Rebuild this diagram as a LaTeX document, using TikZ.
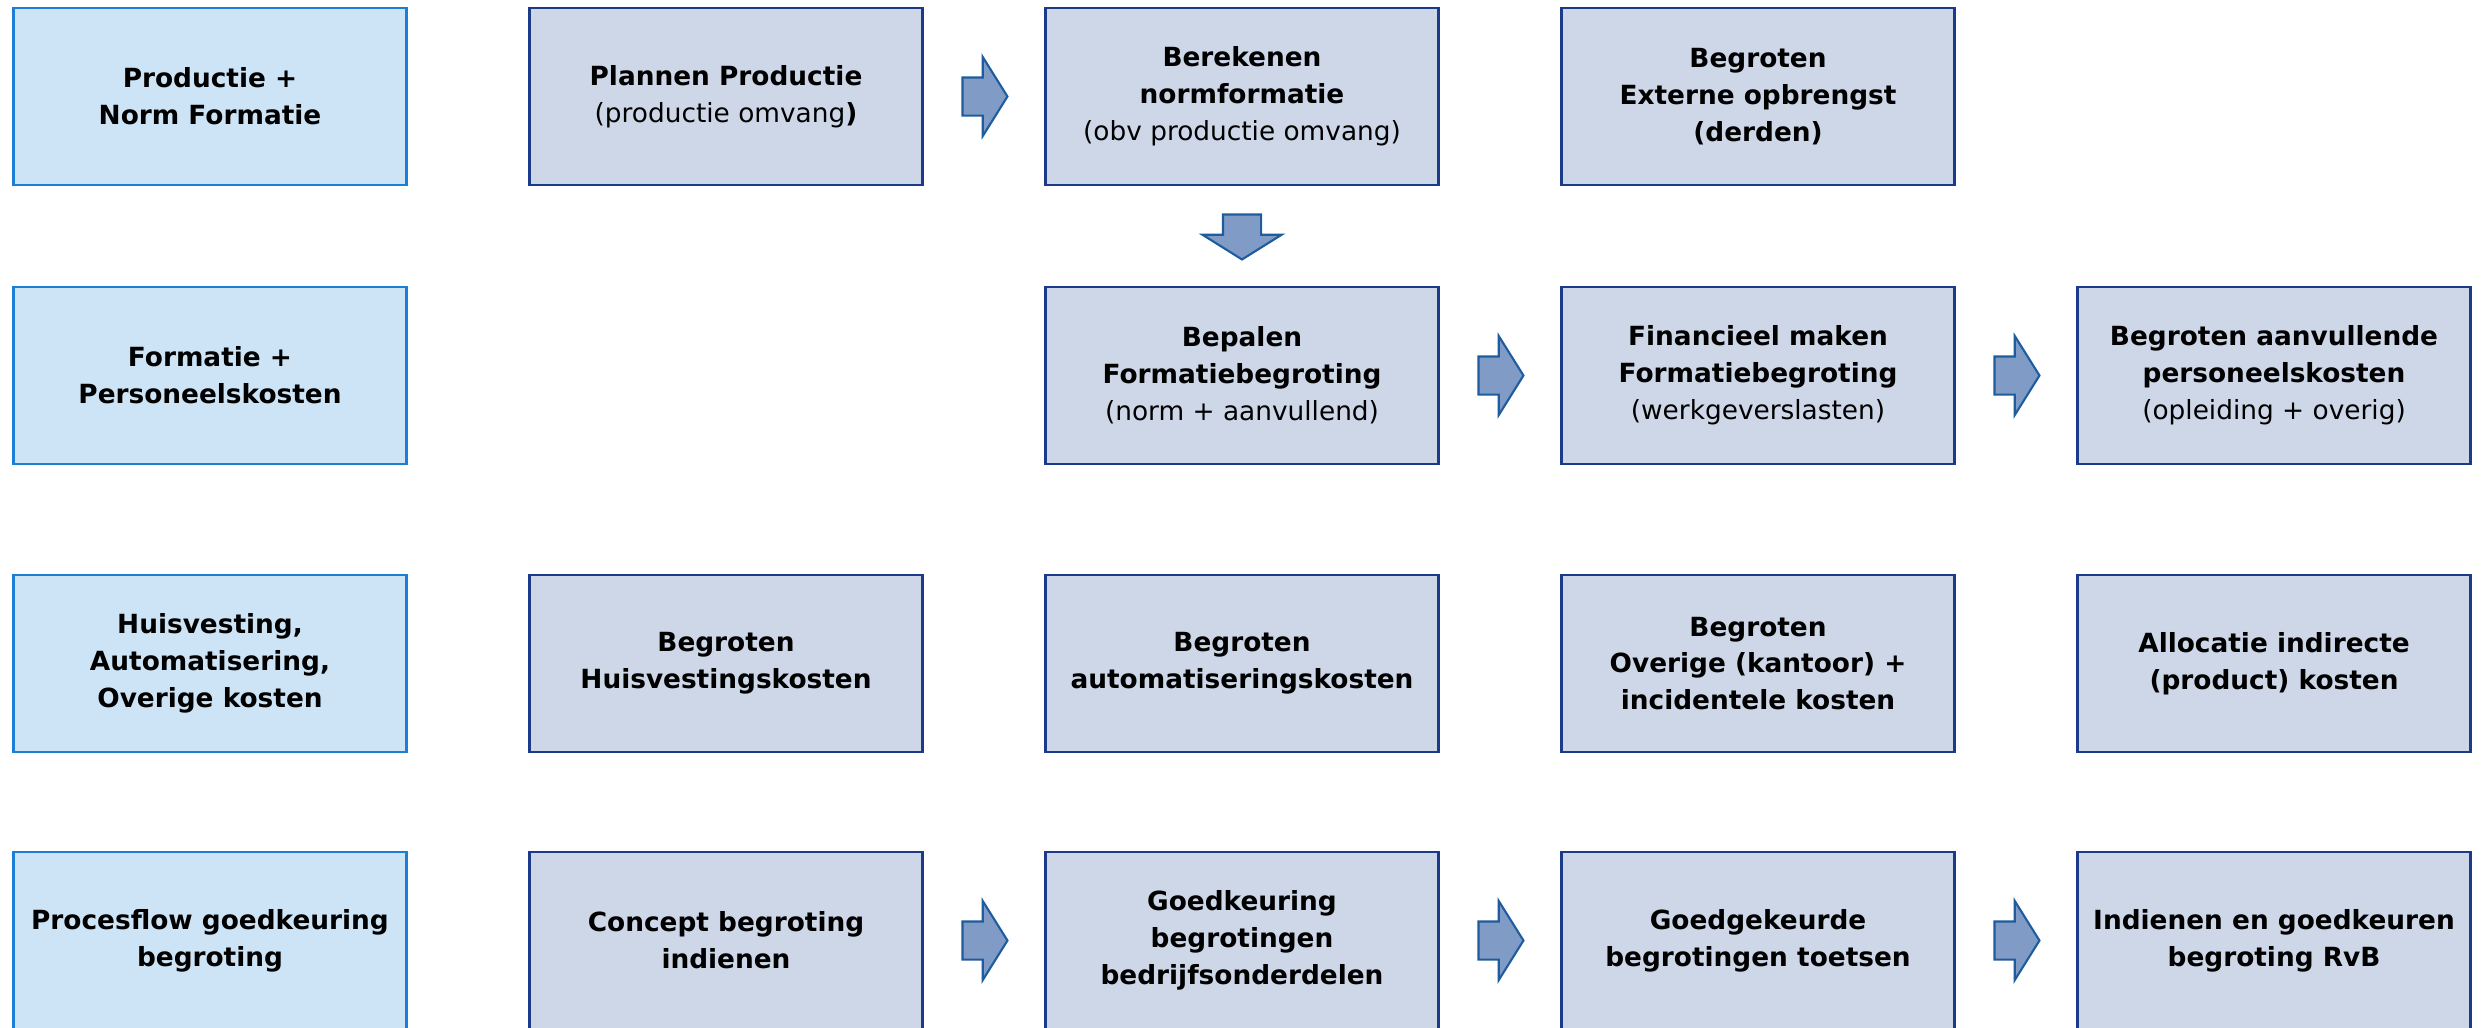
\documentclass[tikz,border=0pt]{standalone}
\usepackage{fontspec}
\setmainfont{DejaVu Sans}
\usepackage{tikz}
\usetikzlibrary{shapes,arrows,positioning,calc}

\definecolor{CatFill}{HTML}{CCE4F6}
\definecolor{CatLine}{HTML}{1C7FD6}
\definecolor{StepFill}{HTML}{CDD7E8}
\definecolor{StepLine}{HTML}{1B3A8A}
\definecolor{ArrowFill}{HTML}{7F9BC6}
\definecolor{ArrowLine}{HTML}{1F5C9E}

\begin{document}
\begin{tikzpicture}
			\tikzstyle{Box}		= [rectangle, line width=0.75pt, minimum width=3.93cm, minimum height=1.77cm, inner sep=0pt, align=center, font=\fontsize{7.5}{10.5}\selectfont\bfseries]
			\tikzstyle{Cat}		= [Box, draw=CatLine, fill=CatFill]
			\tikzstyle{Step}	= [Box, draw=StepLine, fill=StepFill]
			\tikzstyle{BlockArrow}	= [single arrow, draw=ArrowLine, fill=ArrowFill, line width=0.6pt, minimum height=0.45cm, inner xsep=0pt, inner ysep=0.18cm, single arrow head extend=0.205cm, single arrow tip angle=116]
			\tikzstyle{Arrow}	= [BlockArrow, xshift=-0.05cm]
			\tikzstyle{Down}	= [BlockArrow, yshift=0.05cm, rotate=-90]

			\useasboundingbox (0,0) rectangle (24.83,-10.27);

			\node (c1) at (2.10,-0.965) [Cat] {Productie +\\Norm Formatie};
			\node (c2) at (2.10,-3.755) [Cat] {Formatie +\\Personeelskosten};
			\node (c3) at (2.10,-6.635) [Cat] {Huisvesting,\\Automatisering,\\Overige kosten};
			\node (c4) at (2.10,-9.405) [Cat] {Procesflow goedkeuring\\begroting};

			\node (s12) at (7.26,-0.965) [Step] {Plannen Productie\\{\mdseries (productie omvang})};
			\node (s13) at (12.42,-0.965) [Step] {Berekenen\\normformatie\\{\mdseries (obv productie omvang)}};
			\node (s14) at (17.58,-0.965) [Step] {Begroten\\Externe opbrengst\\(derden)};

			\node (s23) at (12.42,-3.755) [Step] {Bepalen\\Formatiebegroting\\{\mdseries (norm + aanvullend)}};
			\node (s24) at (17.58,-3.755) [Step] {Financieel maken\\Formatiebegroting\\{\mdseries (werkgeverslasten)}};
			\node (s25) at (22.74,-3.755) [Step] {Begroten aanvullende\\personeelskosten\\{\mdseries (opleiding + overig)}};

			\node (s32) at (7.26,-6.635) [Step] {Begroten\\Huisvestingskosten};
			\node (s33) at (12.42,-6.635) [Step] {Begroten\\automatiseringskosten};
			\node (s34) at (17.58,-6.635) [Step] {Begroten\\Overige (kantoor) +\\incidentele kosten};
			\node (s35) at (22.74,-6.635) [Step] {Allocatie indirecte\\(product) kosten};

			\node (s42) at (7.26,-9.405) [Step] {Concept begroting\\indienen};
			\node (s43) at (12.42,-9.405) [Step] {Goedkeuring\\begrotingen\\bedrijfsonderdelen};
			\node (s44) at (17.58,-9.405) [Step] {Goedgekeurde\\begrotingen toetsen};
			\node (s45) at (22.74,-9.405) [Step] {Indienen en goedkeuren\\begroting RvB};

			\node (a1) at ($(s12.east)!0.5!(s13.west)$) [Arrow] {};
			\node (a2) at ($(s13.south)!0.5!(s23.north)$) [Down] {};
			\node (a3) at ($(s23.east)!0.5!(s24.west)$) [Arrow] {};
			\node (a4) at ($(s24.east)!0.5!(s25.west)$) [Arrow] {};
			\node (a5) at ($(s42.east)!0.5!(s43.west)$) [Arrow] {};
			\node (a6) at ($(s43.east)!0.5!(s44.west)$) [Arrow] {};
			\node (a7) at ($(s44.east)!0.5!(s45.west)$) [Arrow] {};
		\end{tikzpicture}
\end{document}
